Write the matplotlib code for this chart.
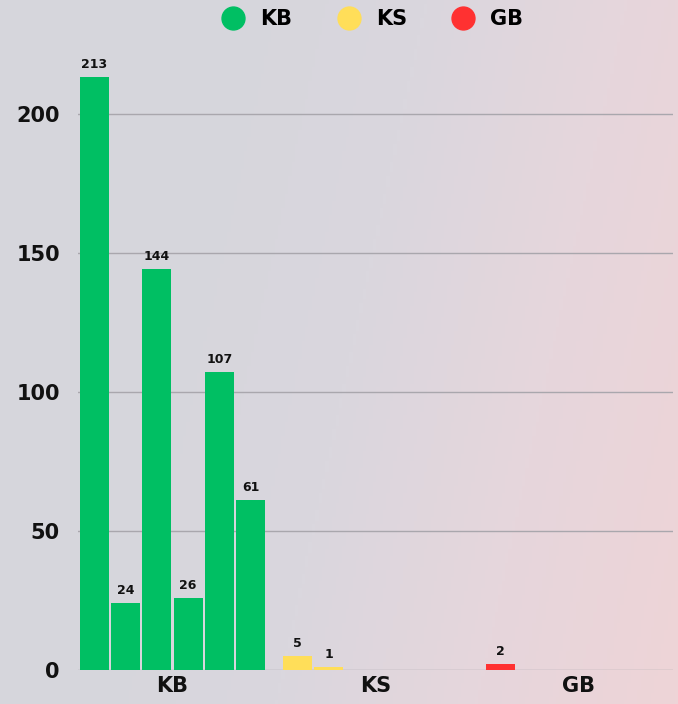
import numpy as np
import matplotlib
matplotlib.use("Agg")
import matplotlib.pyplot as plt
from matplotlib.lines import Line2D
from matplotlib.colors import LinearSegmentedColormap

categories = ["KB", "KS", "GB"]
# six bar slots per category, None = empty slot
kb_vals = [213, 24, 144, 26, 107, 61]
ks_vals = [5, 1, None, None, None, None]
gb_vals = [2, None, None, None, None, None]
series = [kb_vals, ks_vals, gb_vals]
colors = ["#00bf63", "#ffde59", "#ff3131"]
yticks = [0, 50, 100, 150, 200]

plt.rcParams['font.family'] = ['DejaVu Sans']
fig = plt.figure(figsize=(6.78, 7.04), dpi=100)

# background wash
bg = fig.add_axes([0, 0, 1, 1], zorder=-10)
gx = np.linspace(0, 1, 200)
gy = np.linspace(0, 1, 200)
X, Y = np.meshgrid(gx, gy)
t = np.clip(X * 0.9 + Y * 0.2 - 0.3, 0, 1)
cmap = LinearSegmentedColormap.from_list("bg", ["#d6d6dc", "#dad7de", "#e6d6dc", "#eed4d7"])
bg.imshow(t, cmap=cmap, aspect="auto", extent=[0, 1, 0, 1], origin="upper")
bg.axis("off")

ax = fig.add_axes([78 / 678, 34 / 704, 595 / 678, 612 / 704])
ax.patch.set_alpha(0)

nslots = 6
group_w = 0.926
slot_w = group_w / nslots
bar_w = slot_w * 0.93

for ci, (vals, col) in enumerate(zip(series, colors)):
    for si, v in enumerate(vals):
        if v is None:
            continue
        xc = ci - group_w / 2 + slot_w * (si + 0.5)
        ax.bar(xc, v, width=bar_w, color=col, zorder=3)
        ax.text(xc, v + 2.2, str(v), ha="center", va="bottom",
                fontsize=9, fontweight="bold", color="#111111", zorder=4)

ax.set_xlim(-0.5 + 7 / 203, 2.5 - 7 / 203)
ax.set_ylim(0, 220)
ax.set_yticks(yticks)
ax.set_yticklabels([str(v) for v in yticks], fontsize=15, fontweight="bold", color="#111111")
ax.set_xticks(range(len(categories)))
ax.set_xticklabels(categories, fontsize=15, fontweight="bold", color="#111111")
ax.tick_params(axis="both", length=0)
ax.tick_params(axis="y", pad=13)
ax.tick_params(axis="x", pad=4)
ax.grid(axis="y", color="#a9a7ad", linewidth=1, zorder=1)
for s in ax.spines.values():
    s.set_visible(False)

handles = [Line2D([], [], marker="o", linestyle="none", markersize=16.5,
                  markerfacecolor=c, markeredgecolor=c) for c in colors]
fig.legend(handles, categories, loc="center", bbox_to_anchor=(368 / 678, 1 - 19 / 704),
           ncol=3, frameon=False, handletextpad=0.3, columnspacing=1.7,
           prop={"size": 15, "weight": "bold"})

fig.savefig("out.png", dpi=100)
